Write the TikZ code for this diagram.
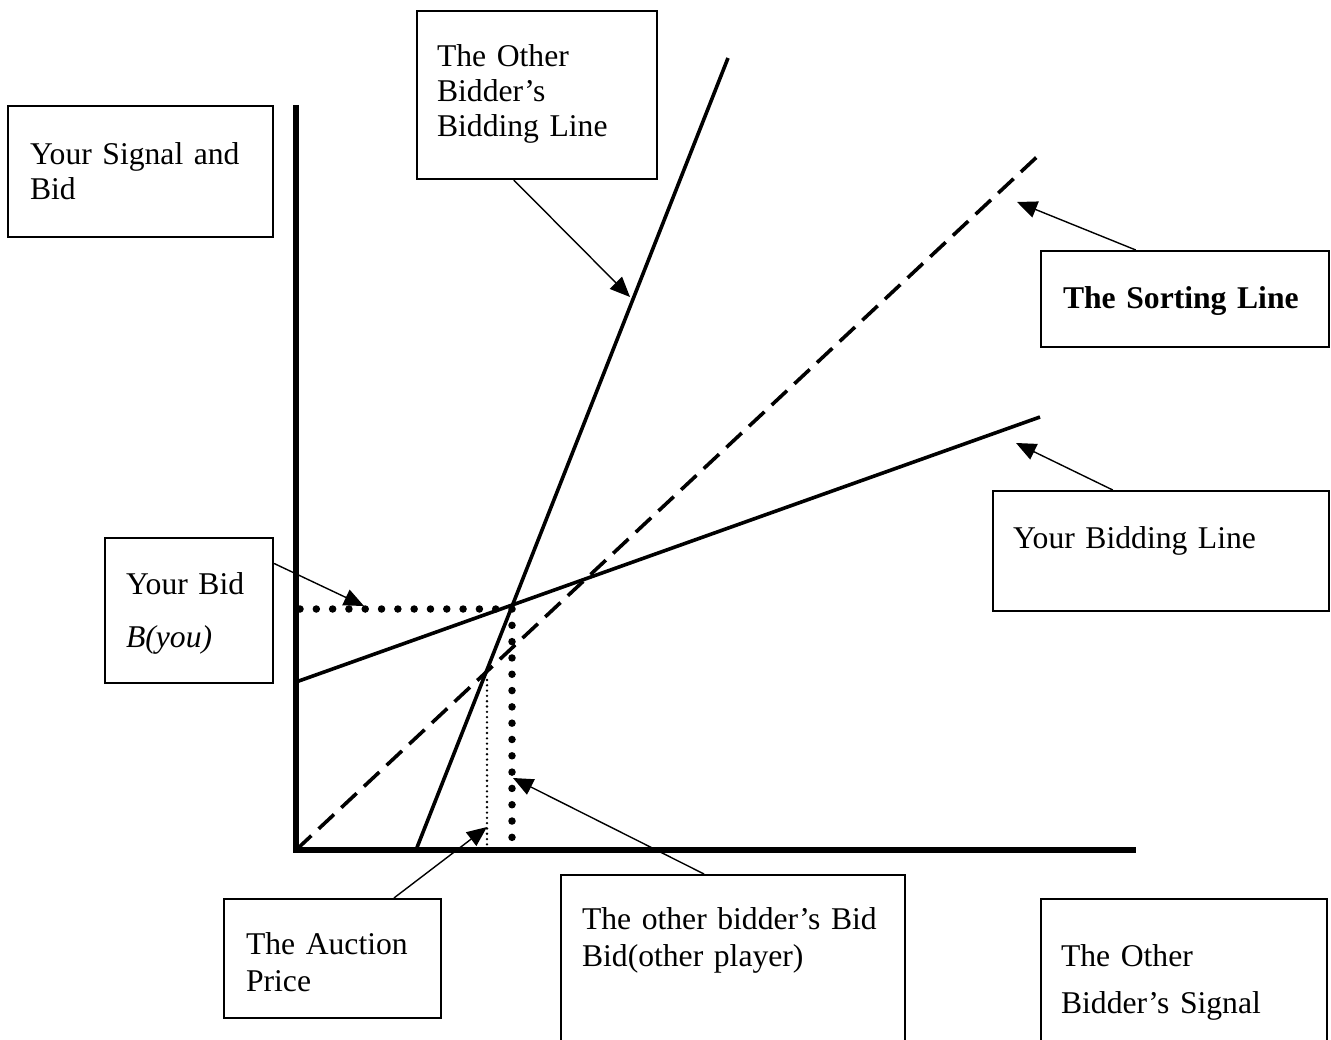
\documentclass[tikz,border=0pt]{standalone}
\usepackage{fontspec}
\setmainfont{Liberation Serif}
\usetikzlibrary{arrows.meta,calc}

\tikzset{
  txtbox/.style={draw, line width=0.02cm, anchor=north west, align=left,
    inner ysep=0pt, font=\fontsize{9}{10}\selectfont},
  pointer/.style={line width=0.014cm, -{Triangle[length=0.2cm,width=0.17cm]}},
  graphline/.style={line width=0.036cm},
  bigdots/.style={line width=0.075cm, line cap=round, dash pattern=on 0pt off 0.163cm},
  smalldots/.style={line width=0.026cm, line cap=round, dash pattern=on 0pt off 0.053cm}
}

\begin{document}
\begin{tikzpicture}[x=0.01cm, y=-0.01cm]
\useasboundingbox (0,0) rectangle (1331,1040);
\clip (0,0) rectangle (1331,1040);
% axes
\draw [line width=0.055cm] (296,105) -- (296,850) -- (1136,850);
% bidding lines
\draw [graphline] (416,850) -- (728,58);
\draw [graphline, dash pattern=on 0.21cm off 0.1cm] (296,850) -- (1040,154);
\draw [graphline] (296,682) -- (1040,417);
% dotted guides
\draw [bigdots] (300,609) -- (512,609) -- (512,840);
\draw [smalldots] (487,680) -- (487,848);
% text boxes
\node [txtbox, text width=2.21cm, inner xsep=0.22cm, text height=0.58cm, text depth=0.73cm] (sigbox) at (7,105) {Your Signal and\\Bid};
\node [txtbox, text width=2.0cm, inner xsep=0.2cm, text height=0.55cm, text depth=1.13cm] (otherbox) at (416,10) {The Other\\Bidder’s\\Bidding Line};
\node [txtbox, text width=2.44cm, inner xsep=0.22cm, text height=0.57cm, text depth=0.39cm] (sortbox) at (1040,250) {\bfseries The Sorting Line};
\node [txtbox, text width=2.96cm, inner xsep=0.2cm, text height=0.57cm, text depth=0.63cm] (linebox) at (992,490) {Your Bidding Line};
\node [txtbox, text width=1.26cm, inner xsep=0.21cm, text height=0.56cm, text depth=0.89cm] (bidbox) at (104,537) {Your Bid\\[0.18cm]\textit{B(you)}};
\node [txtbox, text width=1.73cm, inner xsep=0.22cm, text height=0.55cm, text depth=0.64cm] (pricebox) at (223,898) {The Auction\\[0.02cm]Price};
\node [txtbox, text width=3.02cm, inner xsep=0.21cm, text height=0.54cm, text depth=2.0cm] (otherbidbox) at (560,874) {The other bidder’s Bid\\[0.02cm]Bid(other player)};
\node [txtbox, text width=2.46cm, inner xsep=0.2cm, text height=0.67cm, text depth=2.0cm] (othersigbox) at (1040,898) {The Other\\[0.12cm]Bidder’s Signal};
% arrow tips
\coordinate (othertip) at (630,297);
\coordinate (sorttip) at (1017,202);
\coordinate (linetip) at (1016,443);
\coordinate (bidtip) at (364,606);
\coordinate (pricetip) at (487,827);
\coordinate (otherbidtip) at (513,778);
% pointers
\draw [pointer] ($(otherbox.south west)!0.404!(otherbox.south east)$) -- (othertip);
\draw [pointer] ($(sortbox.north west)!0.33!(sortbox.north east)$) -- (sorttip);
\draw [pointer] ($(linebox.north west)!0.357!(linebox.north east)$) -- (linetip);
\draw [pointer] ($(bidbox.north east)!0.18!(bidbox.south east)$) -- (bidtip);
\draw [pointer] ($(pricebox.north west)!0.78!(pricebox.north east)$) -- (pricetip);
\draw [pointer] ($(otherbidbox.north west)!0.416!(otherbidbox.north east)$) -- (otherbidtip);
\end{tikzpicture}
\end{document}
